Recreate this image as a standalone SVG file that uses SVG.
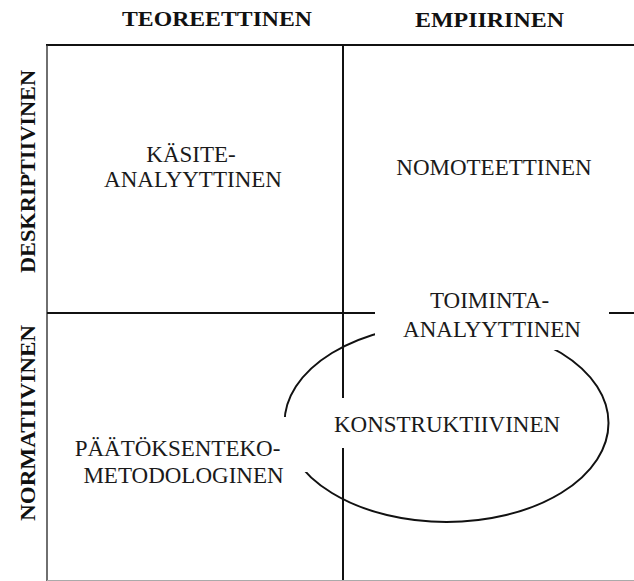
<svg xmlns="http://www.w3.org/2000/svg" width="634" height="581" viewBox="0 0 634 581">
  <style>
    .axis { font-family: "Liberation Serif", "Times New Roman", serif; font-weight: bold; font-size: 22px; fill: #111; }
    .lbl { font-family: "Liberation Serif", "Times New Roman", serif; font-size: 23px; fill: #1a1a1a; text-anchor: middle; }
    .grid { stroke: #111; stroke-width: 2; fill: none; }
    .edge { stroke: #333; stroke-width: 1.4; fill: none; }
    .mask { fill: #fff; stroke: none; }
  </style>
  <rect width="634" height="581" fill="#fff"/>

  <!-- axis headings -->
  <g id="axis-labels">
    <text class="axis" x="122" y="26" textLength="190" lengthAdjust="spacingAndGlyphs">TEOREETTINEN</text>
    <text class="axis" x="415" y="27" textLength="149" lengthAdjust="spacingAndGlyphs">EMPIIRINEN</text>
    <text class="axis" transform="translate(35 273) rotate(-90)" textLength="203" lengthAdjust="spacingAndGlyphs">DESKRIPTIIVINEN</text>
    <text class="axis" transform="translate(35 521) rotate(-90)" textLength="196" lengthAdjust="spacingAndGlyphs">NORMATIIVINEN</text>
  </g>

  <!-- quadrant grid and the overlapping ellipse -->
  <g id="connectors">
    <line class="grid" x1="46" y1="45" x2="634" y2="45"/>
    <line class="edge" x1="47" y1="45" x2="47" y2="581"/>
    <line class="grid" x1="343" y1="45" x2="343" y2="581"/>
    <line class="grid" x1="47" y1="313" x2="634" y2="313"/>
    <line x1="47" y1="580.5" x2="634" y2="580.5" stroke="#aaa" stroke-width="1"/>
    <ellipse class="grid" cx="446.5" cy="423" rx="162" ry="99"/>
  </g>

  <g id="kasiteanalyyttinen">
    <text class="lbl" x="191" y="162">KÄSITE-</text>
    <text class="lbl" x="193" y="187">ANALYYTTINEN</text>
  </g>

  <g id="nomoteettinen">
    <text class="lbl" x="494" y="175">NOMOTEETTINEN</text>
  </g>

  <g id="toiminta-analyyttinen">
    <rect class="mask" x="375" y="288" width="234" height="62"/>
    <text class="lbl" x="489.5" y="308">TOIMINTA-</text>
    <text class="lbl" x="492" y="337">ANALYYTTINEN</text>
  </g>

  <g id="konstruktiivinen">
    <rect class="mask" x="325" y="398" width="245" height="50"/>
    <text class="lbl" x="447" y="432">KONSTRUKTIIVINEN</text>
  </g>

  <g id="paatoksenteko">
    <rect class="mask" x="68" y="417" width="240" height="55"/>
    <text class="lbl" x="177.5" y="456">PÄÄTÖKSENTEKO-</text>
    <text class="lbl" x="183.5" y="483">METODOLOGINEN</text>
  </g>
</svg>
